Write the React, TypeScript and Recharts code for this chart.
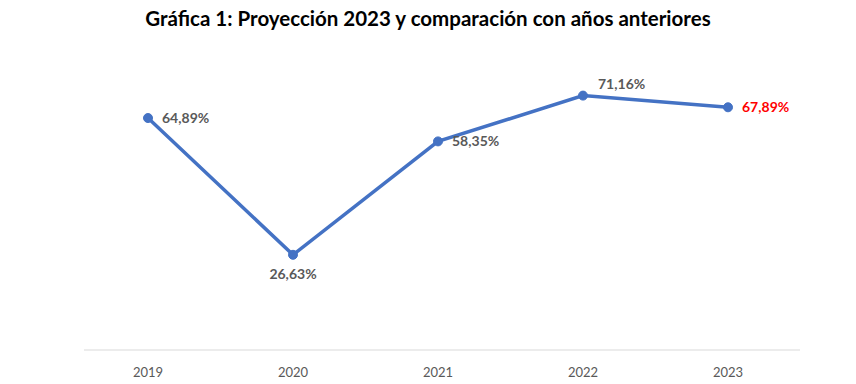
import { LineChart, Line, XAxis, YAxis, LabelList } from 'recharts';

const YEARS = ['2019', '2020', '2021', '2022', '2023'];
const PERCENTS = [64.89, 26.63, 58.35, 71.16, 67.89];

const TITLE = 'Gráfica 1: Proyección 2023 y comparación con años anteriores';
const FONT = 'Lato, "Liberation Sans", sans-serif';
const BLUE = '#4472C4';
const LABEL_GRAY = '#595959';

// where each value label sits relative to its point
const PLACEMENT = ['right', 'below', 'right', 'aboveRight', 'right'];
const LABEL_COLORS = [LABEL_GRAY, LABEL_GRAY, LABEL_GRAY, LABEL_GRAY, '#FF0000'];

const data = YEARS.map((year, i) => ({ year, value: PERCENTS[i] }));

const fmt = (v: number) => v.toFixed(2).replace('.', ',') + '%';

function ValueLabel(props: any) {
  const { x, y, value, index } = props;
  const place = PLACEMENT[index];
  let tx = x + 14;
  let ty = y + 5;
  let anchor: 'start' | 'middle' = 'start';
  if (place === 'below') {
    tx = x;
    ty = y + 24;
    anchor = 'middle';
  } else if (place === 'aboveRight') {
    tx = x + 15;
    ty = y - 7;
  }
  return (
    <text
      x={tx}
      y={ty}
      textAnchor={anchor}
      fill={LABEL_COLORS[index]}
      fontSize={14}
      fontWeight={700}
      fontFamily={FONT}
    >
      {fmt(value)}
    </text>
  );
}

export default function App() {
  return (
    <div style={{ position: 'relative', width: 840, height: 372 }}>
      <div
        style={{
          position: 'absolute',
          top: -1,
          left: 0,
          width: 840,
          textAlign: 'center',
          fontFamily: FONT,
          fontWeight: 700,
          fontSize: 20.5,
          color: '#000',
          lineHeight: '22px',
        }}
      >
        {TITLE}
      </div>
      <LineChart
        width={840}
        height={372}
        data={data}
        margin={{ top: 56, right: 48, left: 76, bottom: 0 }}
      >
        <XAxis
          dataKey="year"
          padding={{ left: 64, right: 72 }}
          axisLine={{ stroke: '#d9d9d9', strokeWidth: 1 }}
          tickLine={false}
          tickMargin={12}
          height={30}
          tick={{ fill: LABEL_GRAY, fontSize: 13, fontFamily: FONT }}
        />
        <YAxis hide domain={[0, 80]} />
        <Line
          type="linear"
          dataKey="value"
          stroke={BLUE}
          strokeWidth={3.5}
          dot={{ r: 4.5, fill: BLUE, stroke: BLUE, strokeWidth: 1 }}
          isAnimationActive={false}
        >
          <LabelList dataKey="value" content={<ValueLabel />} />
        </Line>
      </LineChart>
    </div>
  );
}
